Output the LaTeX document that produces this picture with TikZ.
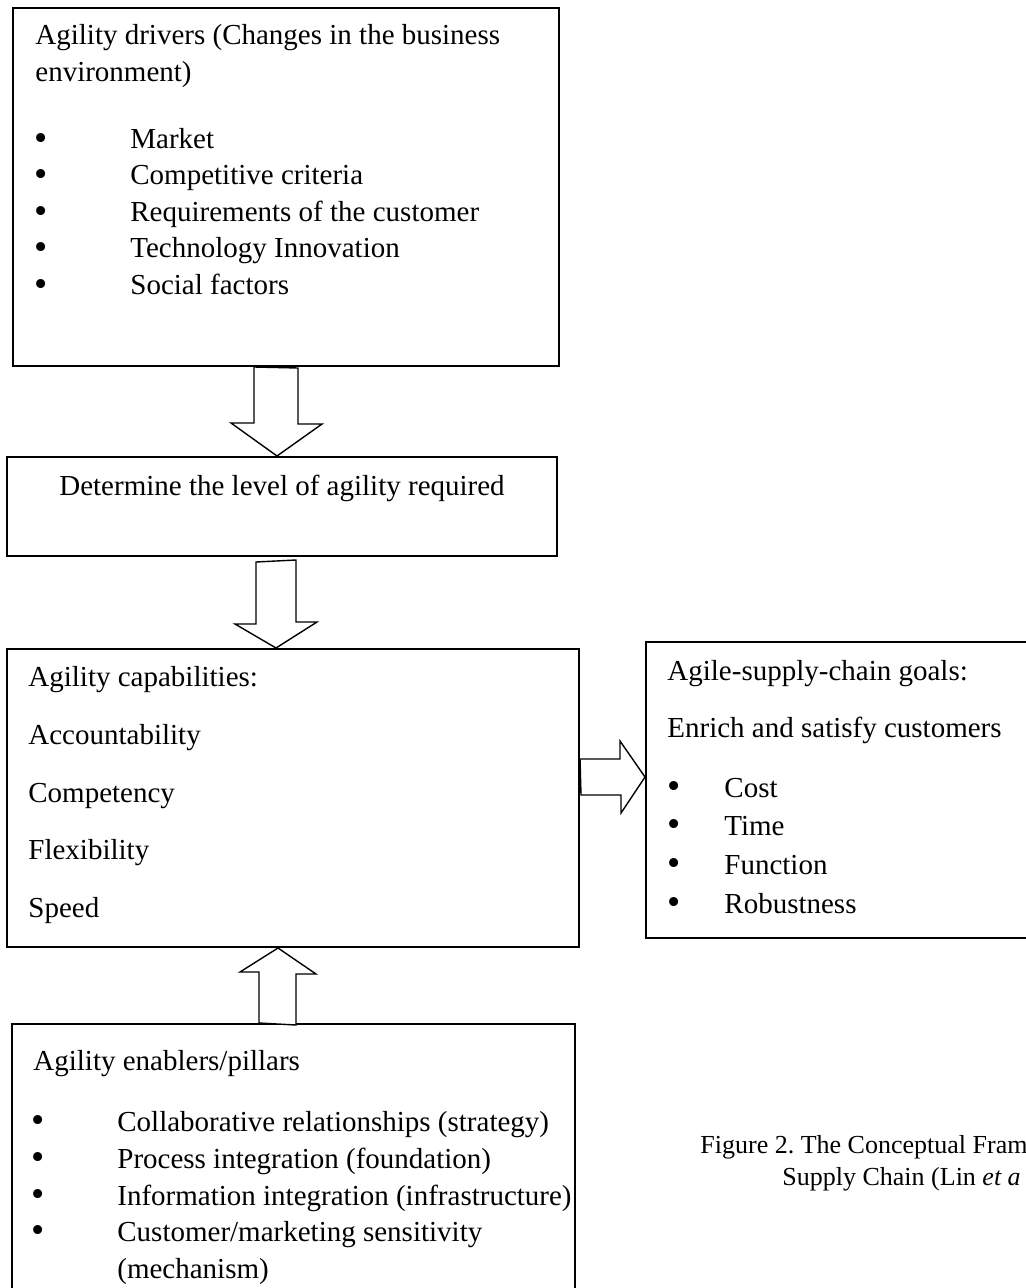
\documentclass[tikz,border=0pt]{standalone}
\usepackage{fontspec}
\usepackage{graphicx}
\setmainfont{Liberation Serif}
\usetikzlibrary{fit}
\newcommand{\blt}{\raisebox{-0.06em}{\scalebox{1.3}{\textbullet}}}
\tikzset{
  box/.style={draw,line width=1pt,inner sep=0pt},
  blockarrow/.style={draw,line width=0.7pt,fill=white,line join=miter},
  txt/.style={anchor=base west,inner sep=0pt},
  captxt/.style={txt,font=\fontsize{13}{15.6}\selectfont}
}
\frenchspacing
\begin{document}
\begin{tikzpicture}[x=0.5pt,y=-0.5pt,font=\fontsize{14.5}{17.4}\selectfont]
\useasboundingbox (0,0) rectangle (1025,1288);

% boxes
\node[box,fit={(13,8) (559,366)}] (drivers) {};
\node[box,fit={(7,457) (557,556)}] (level) {};
\node[box,fit={(7,649) (579,947)}] (capab) {};
\node[box,fit={(646,642) (1040,938)}] (goals) {};
\node[box,fit={(12,1024) (575,1300)}] (enablers) {};

% drivers
\node[txt] (d0) at (35,45) {Agility drivers (Changes in the business};
\node[txt] (d1) at (35,82) {environment)};
\node[txt] (db1) at (34,149) {\blt};
\node[txt] (d2) at (130,149) {Market};
\node[txt] (db2) at (34,185) {\blt};
\node[txt] (d3) at (130,185) {Competitive criteria};
\node[txt] (db3) at (34,222) {\blt};
\node[txt] (d4) at (130,222) {Requirements of the customer};
\node[txt] (db4) at (34,258) {\blt};
\node[txt] (d5) at (130,258) {Technology Innovation};
\node[txt] (db5) at (34,295) {\blt};
\node[txt] (d6) at (130,295) {Social factors};

% level
\node[anchor=base,inner sep=0pt] (lv) at (282,495) {Determine the level of agility required};

% capabilities
\node[txt] (c0) at (28,686) {Agility capabilities:};
\node[txt] (c1) at (28,744) {Accountability};
\node[txt] (c2) at (28,802) {Competency};
\node[txt] (c3) at (28,859) {Flexibility};
\node[txt] (c4) at (28,917) {Speed};

% goals
\node[txt] (g0) at (667,680) {Agile-supply-chain goals:};
\node[txt] (g1) at (667,737) {Enrich and satisfy customers};
\node[txt] (gb1) at (667,797) {\blt};
\node[txt] (g2) at (724,797) {Cost};
\node[txt] (gb2) at (667,835) {\blt};
\node[txt] (g3) at (724,835) {Time};
\node[txt] (gb3) at (667,874) {\blt};
\node[txt] (g4) at (724,874) {Function};
\node[txt] (gb4) at (667,913) {\blt};
\node[txt] (g5) at (724,913) {Robustness};

% enablers
\node[txt] (e0) at (33,1070) {Agility enablers/pillars};
\node[txt] (eb1) at (31,1131) {\blt};
\node[txt] (e1) at (117,1131) {Collaborative relationships (strategy)};
\node[txt] (eb2) at (31,1168) {\blt};
\node[txt] (e2) at (117,1168) {Process integration (foundation)};
\node[txt] (eb3) at (31,1205) {\blt};
\node[txt] (e3) at (117,1205) {Information integration (infrastructure)};
\node[txt] (eb4) at (31,1241) {\blt};
\node[txt] (e4) at (117,1241) {Customer/marketing sensitivity};
\node[txt] (e5) at (117,1278) {(mechanism)};

% caption
\node[captxt] (cap1) at (700,1153) {Figure 2. The Conceptual Fram};
\node[captxt] (cap2) at (782,1185) {Supply Chain (Lin \textit{et a}};

% block arrows
\coordinate (t1) at (277,0);
\coordinate (t2) at (276,0);
\coordinate (t3) at (278,0);
\coordinate (t4) at (0,777);
\draw[blockarrow] (drivers.south -| t1) ++(-23,0) -- ++(0,56) -- ++(-23,0)
  -- (level.north -| t1) -- ++(45,-32) -- ++(-24,0) -- ++(0,-56) -- cycle;
\draw[blockarrow] (level.south -| t2) ++(-20,5) -- ++(0,62) -- ++(-21,0)
  -- (capab.north -| t2) -- ++(41,-26) -- ++(-21,0) -- ++(0,-62) -- cycle;
\draw[blockarrow] (enablers.north -| t3) ++(-19,0) -- ++(0,-51) -- ++(-19,0)
  -- (capab.south -| t3) -- ++(38,26) -- ++(-20,0) -- ++(0,51) -- cycle;
\draw[blockarrow] (capab.east |- t4) ++(0,-18) -- ++(40,0) -- ++(0,-18)
  -- (goals.west |- t4) -- ++(-24,36) -- ++(0,-18) -- ++(-40,0) -- cycle;
\end{tikzpicture}
\end{document}
